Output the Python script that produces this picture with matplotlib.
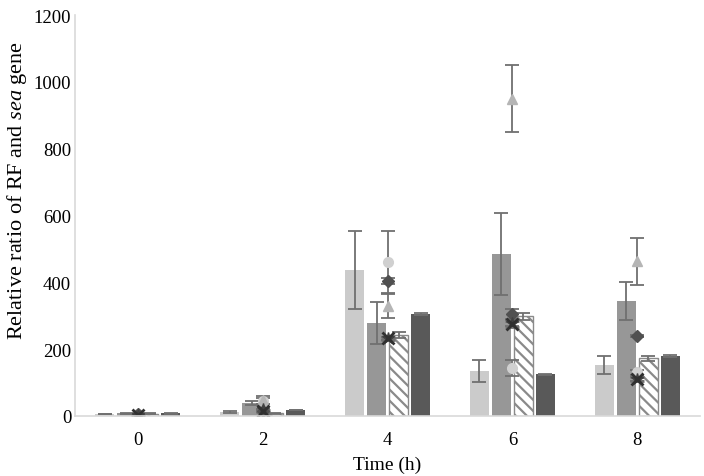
import matplotlib.pyplot as plt
import numpy as np

plt.rcParams['font.family'] = ['Liberation Serif', 'DejaVu Serif']
plt.rcParams['mathtext.fontset'] = 'custom'
plt.rcParams['mathtext.rm'] = 'Liberation Serif'
plt.rcParams['mathtext.it'] = 'Liberation Serif:italic'
plt.rcParams['hatch.color'] = '#8a8a8a'
plt.rcParams['hatch.linewidth'] = 1.6

# Time points
times = ["0", "2", "4", "6", "8"]

# Bar series (mean, error)
bar_light = [6, 12, 437, 135, 152]
bar_light_err = [1, 2, 118, 32, 27]
bar_mid = [8, 40, 278, 485, 343]
bar_mid_err = [1, 6, 64, 122, 57]
bar_hatch = [7, 8, 242, 298, 172]
bar_hatch_err = [1, 1, 8, 10, 8]
bar_dark = [8, 18, 304, 124, 178]
bar_dark_err = [1, 1, 3, 2, 3]

# Marker series (mean, error)
mk_diamond = [5, 15, 404, 305, 238]
mk_diamond_err = [1, 2, 10, 15, 3]
mk_triangle = [5, 48, 330, 950, 463]
mk_triangle_err = [1, 12, 37, 100, 70]
mk_cross = [4, 15, 232, 275, 110]
mk_cross_err = [1, 2, 4, 10, 5]
mk_star = [4, 20, 232, 278, 110]
mk_star_err = [1, 2, 4, 8, 5]
mk_circle = [5, 45, 460, 143, 130]
mk_circle_err = [1, 10, 94, 25, 8]

fig = plt.figure(figsize=(7.04, 4.77), dpi=100)
ax = fig.add_axes([0.107, 0.126, 0.887, 0.840])

x = np.arange(len(times))
w = 0.152
step = 0.176
ekw = dict(ecolor='#707070', elinewidth=1.3, capsize=5, capthick=1.3)

ax.bar(x - 1.5 * step, bar_light, w, yerr=bar_light_err, color='#cbcbcb', error_kw=ekw)
ax.bar(x - 0.5 * step, bar_mid, w, yerr=bar_mid_err, color='#979797', error_kw=ekw)
ax.bar(x + 0.5 * step, bar_hatch, w, yerr=bar_hatch_err, color='white',
       edgecolor='#8a8a8a', hatch='\\\\\\', linewidth=1, error_kw=ekw)
ax.bar(x + 1.5 * step, bar_dark, w, yerr=bar_dark_err, color='#595959', error_kw=ekw)

mkw = dict(linestyle='none', ecolor='#707070', elinewidth=1.3, capsize=5, capthick=1.3)
ax.errorbar(x, mk_circle, yerr=mk_circle_err, marker='o', markersize=7,
            color='#d0d0d0', **mkw)
ax.errorbar(x, mk_triangle, yerr=mk_triangle_err, marker='^', markersize=7,
            color='#b5b5b5', **mkw)
ax.errorbar(x, mk_diamond, yerr=mk_diamond_err, marker='D', markersize=6,
            color='#505050', **mkw)
ax.errorbar(x, mk_star, yerr=mk_star_err, marker='*', markersize=9,
            color='#404040', **mkw)
ax.errorbar(x, mk_cross, yerr=mk_cross_err, marker='x', markersize=8,
            markeredgewidth=2, color='#303030', **mkw)

ax.set_xlim(-0.5, len(times) - 0.5)
ax.set_ylim(0, 1200)
ax.set_yticks(range(0, 1201, 200))
ax.set_xticks(x)
ax.set_xticklabels(times)
ax.tick_params(length=0, labelsize=13.5)
ax.tick_params(axis='x', pad=11)
ax.tick_params(axis='y', pad=3)

for s in ['top', 'right']:
    ax.spines[s].set_visible(False)
for s in ['left', 'bottom']:
    ax.spines[s].set_color('#d9d9d9')
    ax.spines[s].set_linewidth(1.2)

ax.set_xlabel("Time (h)", fontsize=14)
ax.xaxis.set_label_coords(0.5, -0.1)
ax.set_ylabel("Relative ratio of RF and $\\mathit{sea}$ gene", fontsize=16)
ax.yaxis.set_label_coords(-0.074, 0.565)

fig.savefig("out.png", dpi=100)
